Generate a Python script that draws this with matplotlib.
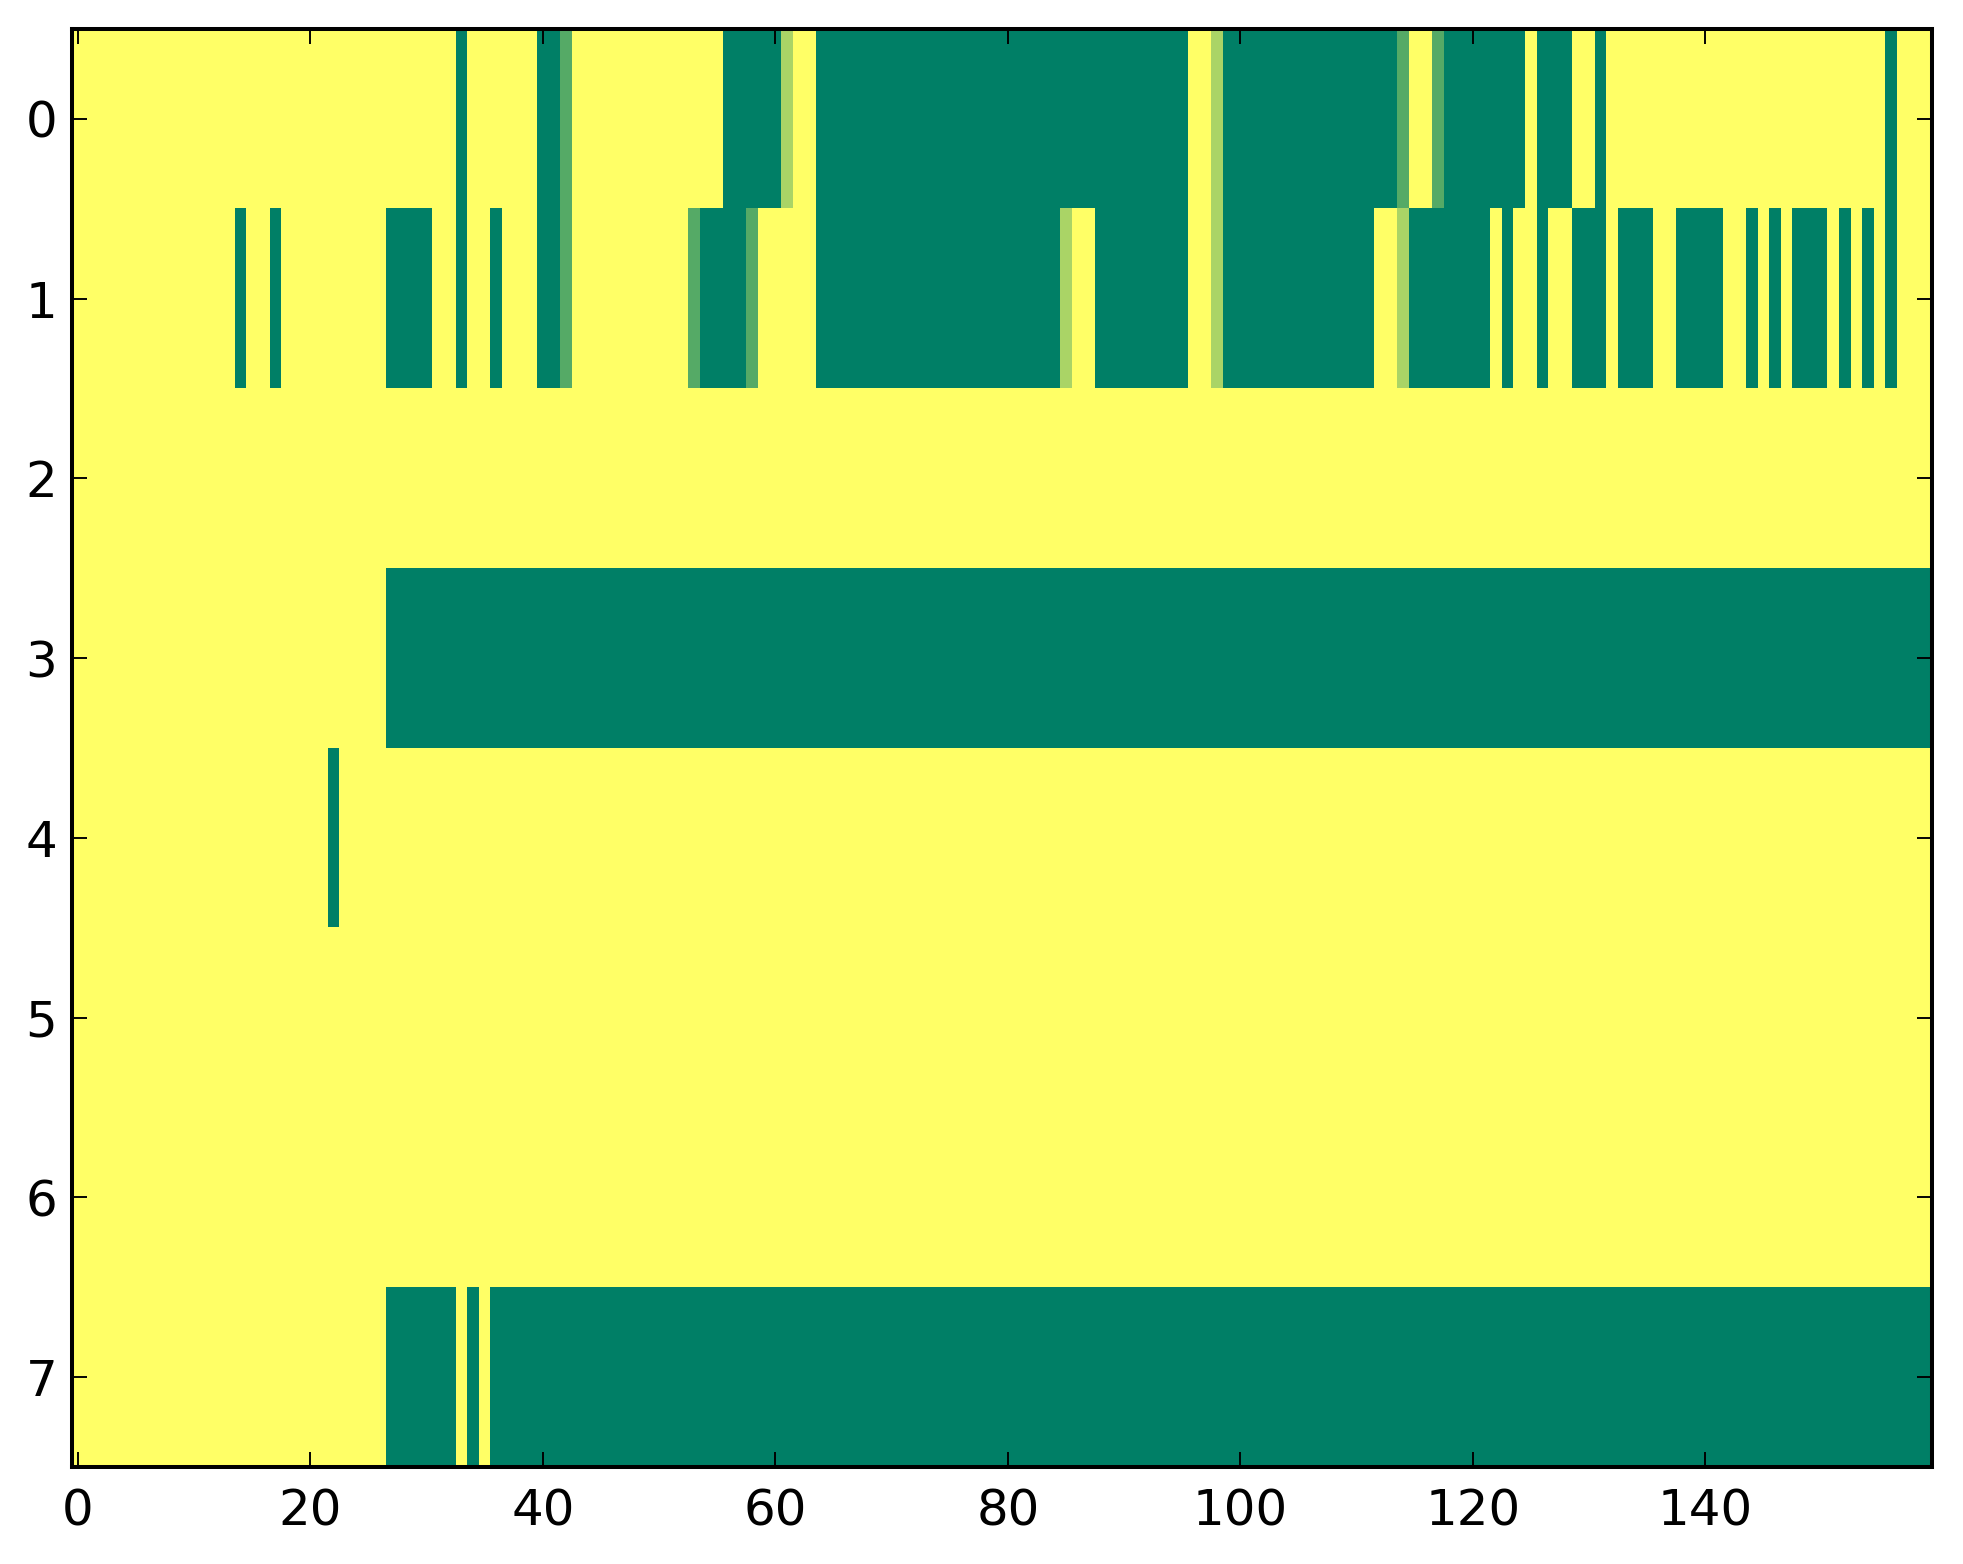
import numpy as np
import matplotlib
matplotlib.use("Agg")
import matplotlib.pyplot as plt

# cell values: 0 = dark green, 1 = yellow, in between = partial
M = 1 / 3
L = 2 / 3

# each row as run-length pairs (value, count), 160 columns per row
row0_vals = [1, 0, 1, 0, M, 1, 0, L, 1, 0, 1, L, 0, M, 1, M, 0, 1, 0, 1, 0, 1, 0, 1]
row0_lens = [33, 1, 6, 2, 1, 13, 5, 1, 2, 32, 2, 1, 15, 1, 2, 1, 7, 1, 3, 2, 1, 24, 1, 3]

row1_vals = [1, 0, 1, 0, 1, 0, 1, 0, 1, 0, 1, 0, M, 1, M, 0, M, 1, 0, L, 1, 0, 1, L, 0,
             1, L, 0, 1, 0, 1, 0, 1, 0, 1, 0, 1, 0, 1, 0, 1, 0, 1, 0, 1, 0, 1, 0, 1, 0, 1]
row1_lens = [14, 1, 2, 1, 9, 4, 2, 1, 2, 1, 3, 2, 1, 10, 1, 4, 1, 5, 21, 1, 2, 8, 2, 1, 13,
             2, 1, 7, 1, 1, 2, 1, 2, 3, 1, 3, 2, 4, 2, 1, 1, 1, 1, 3, 1, 1, 1, 1, 1, 1, 3]

row2_vals = [1]
row2_lens = [160]

row3_vals = [1, 0]
row3_lens = [27, 133]

row4_vals = [1, 0, 1]
row4_lens = [22, 1, 137]

row5_vals = [1]
row5_lens = [160]

row6_vals = [1]
row6_lens = [160]

row7_vals = [1, 0, 1, 0, 1, 0]
row7_lens = [27, 6, 1, 1, 1, 124]

rows = [
    (row0_vals, row0_lens), (row1_vals, row1_lens), (row2_vals, row2_lens),
    (row3_vals, row3_lens), (row4_vals, row4_lens), (row5_vals, row5_lens),
    (row6_vals, row6_lens), (row7_vals, row7_lens),
]
data = np.array([np.repeat(v, n) for v, n in rows], dtype=float)

plt.rcParams["font.family"] = ["DejaVu Sans"]
plt.rcParams["font.size"] = 13
plt.rcParams["xtick.direction"] = "in"
plt.rcParams["ytick.direction"] = "in"
plt.rcParams["xtick.top"] = True
plt.rcParams["ytick.right"] = True
plt.rcParams["xtick.major.size"] = 4
plt.rcParams["ytick.major.size"] = 4
plt.rcParams["xtick.major.width"] = 0.5
plt.rcParams["ytick.major.width"] = 0.5
plt.rcParams["xtick.major.pad"] = 5.3
plt.rcParams["ytick.major.pad"] = 3.8
plt.rcParams["axes.linewidth"] = 1.05

fig = plt.figure(figsize=(1963 / 276, 1564 / 276), dpi=276)
ax = fig.add_axes([72 / 1963, 1 - 1467 / 1564, (1932 - 72) / 1963, (1467 - 29) / 1564])
ax.imshow(data, cmap="summer", vmin=0, vmax=1, aspect="auto", interpolation="nearest")
ax.set_xticks(np.arange(0, 160, 20))
ax.set_yticks(np.arange(0, 8))

fig.savefig("out.png", dpi=276, facecolor="white")
